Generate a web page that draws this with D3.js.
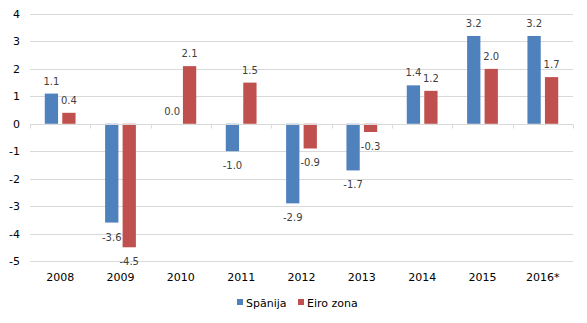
<!DOCTYPE html>
<html>
<head>
<meta charset="utf-8">
<script src="https://cdn.jsdelivr.net/npm/d3@7"></script>
<style>
  body { margin: 0; background: #fff; }
  svg text { font-family: "DejaVu Sans", Verdana, sans-serif; }
</style>
</head>
<body>
<script>
// Data
const years = ["2008", "2009", "2010", "2011", "2012", "2013", "2014", "2015", "2016*"];
const spain = [1.1, -3.6, 0.0, -1.0, -2.9, -1.7, 1.4, 3.2, 3.2];
const euro = [0.4, -4.5, 2.1, 1.5, -0.9, -0.3, 1.2, 2.0, 1.7];
const seriesNames = ["Spānija", "Eiro zona"];
const yTicks = [4, 3, 2, 1, 0, -1, -2, -3, -4, -5];

const colors = ["#4F81BD", "#C0504D"];

const W = 587, H = 323;
const margin = {top: 14, right: 14, bottom: 62, left: 30};
const width = W - margin.left - margin.right;
const height = H - margin.top - margin.bottom;

const svg = d3.select("body").append("svg")
  .attr("width", W)
  .attr("height", H);

const g = svg.append("g")
  .attr("transform", `translate(${margin.left},${margin.top})`);

// Scales
const x0 = d3.scaleBand().domain(years).range([0, width]).paddingInner(0.49).paddingOuter(0.245);
const x1 = d3.scaleBand().domain([0, 1]).range([0, x0.bandwidth()]).paddingInner(0.24);
const y = d3.scaleLinear().domain([-5, 4]).range([height, 0]);

// Gridlines
g.append("g")
  .selectAll("line")
  .data(yTicks)
  .enter().append("line")
  .attr("x1", 0)
  .attr("x2", width)
  .attr("y1", d => Math.round(y(d)) + 0.5)
  .attr("y2", d => Math.round(y(d)) + 0.5)
  .attr("stroke", "#D9D9D9")
  .attr("stroke-width", 1);

// Y axis labels
g.append("g")
  .selectAll("text")
  .data(yTicks)
  .enter().append("text")
  .attr("x", -10)
  .attr("y", d => y(d) + 4)
  .attr("text-anchor", "end")
  .attr("font-size", "11px")
  .attr("fill", "#000")
  .text(d => d);

// Bars
const rows = years.map((yr, i) => ({year: yr, vals: [spain[i], euro[i]]}));

const groups = g.append("g")
  .selectAll("g")
  .data(rows)
  .enter().append("g")
  .attr("transform", d => `translate(${x0(d.year)},0)`);

groups.selectAll("rect")
  .data(d => d.vals.map((v, k) => ({k, v})))
  .enter().append("rect")
  .attr("x", d => x1(d.k))
  .attr("width", x1.bandwidth())
  .attr("y", d => y(Math.max(0, d.v)))
  .attr("height", d => Math.abs(y(d.v) - y(0)))
  .attr("fill", d => colors[d.k]);

// Value labels
groups.selectAll("text")
  .data(d => d.vals.map((v, k) => ({k, v})))
  .enter().append("text")
  .attr("x", d => x1(d.k) + x1.bandwidth() / 2)
  .attr("y", d => d.v >= 0 ? y(d.v) - 9 : y(d.v) + 18)
  .attr("text-anchor", "middle")
  .attr("font-size", "10px")
  .attr("fill", "#404040")
  .text(d => d.v.toFixed(1));

// Zero axis line with category ticks
const zeroY = Math.round(y(0)) + 0.5;
g.append("line")
  .attr("x1", 0).attr("x2", width)
  .attr("y1", zeroY).attr("y2", zeroY)
  .attr("stroke", "#D9D9D9");

g.append("g")
  .selectAll("line")
  .data(d3.range(years.length + 1))
  .enter().append("line")
  .attr("x1", i => Math.round(i * width / years.length) + 0.5)
  .attr("x2", i => Math.round(i * width / years.length) + 0.5)
  .attr("y1", zeroY)
  .attr("y2", zeroY + 4)
  .attr("stroke", "#D9D9D9");

// Category labels
g.append("g")
  .selectAll("text")
  .data(years)
  .enter().append("text")
  .attr("x", d => x0(d) + x0.bandwidth() / 2)
  .attr("y", height + 20)
  .attr("text-anchor", "middle")
  .attr("font-size", "11px")
  .attr("fill", "#000")
  .text(d => d);

// Legend
const legend = svg.append("g").attr("transform", "translate(237,298)");
const legendX = [0, 61];
seriesNames.forEach((name, i) => {
  const item = legend.append("g").attr("transform", `translate(${legendX[i]},0)`);
  item.append("rect")
    .attr("x", 0).attr("y", 1)
    .attr("width", 6).attr("height", 6)
    .attr("fill", colors[i]);
  item.append("text")
    .attr("x", 9).attr("y", 9)
    .attr("font-size", "11px")
    .attr("fill", "#000")
    .text(name);
});
</script>
</body>
</html>
